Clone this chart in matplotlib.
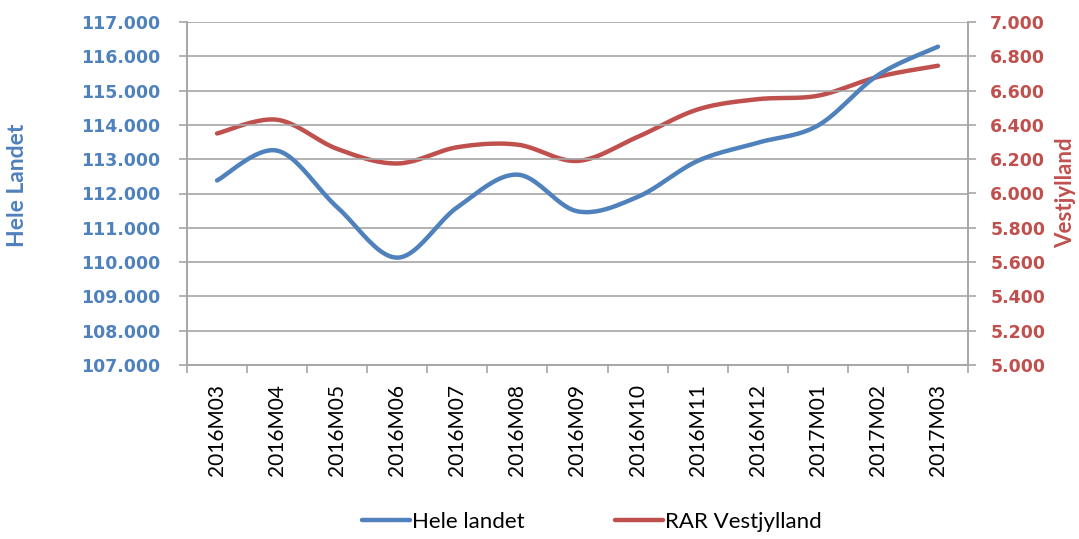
import numpy as np
import matplotlib.pyplot as plt
from matplotlib.ticker import FuncFormatter

# -------------------------
# Data
# -------------------------
months = ["2016M03", "2016M04", "2016M05", "2016M06", "2016M07", "2016M08",
          "2016M09", "2016M10", "2016M11", "2016M12", "2017M01", "2017M02",
          "2017M03"]
hele_landet = [112.38, 113.25, 111.60, 110.13, 111.60, 112.55,
               111.48, 111.90, 112.95, 113.48, 113.98, 115.45, 116.28]
rar_vestjylland = [6.35, 6.43, 6.26, 6.175, 6.27, 6.285,
                   6.19, 6.33, 6.49, 6.55, 6.57, 6.68, 6.745]

BLUE = "#4F81BD"
RED = "#C0504D"
GRID = "#A6A6A6"


def smooth(x, y, n=24):
    # Excel-style smoothed line: cubic Bezier through the points (Catmull-Rom)
    x = np.asarray(x, float)
    y = np.asarray(y, float)
    xs, ys = [], []
    t = np.linspace(0, 1, n)
    m = len(x)
    for i in range(m - 1):
        i0 = max(i - 1, 0)
        i3 = min(i + 2, m - 1)
        for arr, out in ((x, xs), (y, ys)):
            p0, p1, p2, p3 = arr[i0], arr[i], arr[i + 1], arr[i3]
            c1 = p1 + (p2 - p0) / 6
            c2 = p2 - (p3 - p1) / 6
            seg = ((1 - t) ** 3 * p1 + 3 * (1 - t) ** 2 * t * c1
                   + 3 * (1 - t) * t ** 2 * c2 + t ** 3 * p2)
            out.extend(seg if i == 0 else seg[1:])
    return np.array(xs), np.array(ys)


fig = plt.figure(figsize=(10.79, 5.39), dpi=100)
ax = fig.add_axes([187 / 1079, 1 - 365 / 539, (968 - 187) / 1079, (365 - 22) / 539])
ax2 = ax.twinx()

xpos = np.arange(len(months))
bx, by = smooth(xpos, hele_landet)
rx, ry = smooth(xpos, rar_vestjylland)
l1, = ax.plot(bx, by, color=BLUE, lw=3.2, solid_capstyle="round", label="Hele landet")
l2, = ax2.plot(rx, ry, color=RED, lw=3.2, solid_capstyle="round", label="RAR Vestjylland")
ax.set_zorder(ax2.get_zorder() + 1)
ax.patch.set_visible(False)

ax.set_xlim(-0.5, len(months) - 0.5)
ax.set_ylim(107, 117)
ax2.set_ylim(5, 7)
ax.set_yticks(np.arange(107, 117.5, 1))
ax2.set_yticks(np.arange(5, 7.05, 0.2))
ax.yaxis.set_major_formatter(FuncFormatter(lambda v, p: f"{v:.3f}"))
ax2.yaxis.set_major_formatter(FuncFormatter(lambda v, p: f"{v:.3f}"))

ax.grid(axis="y", color=GRID, lw=1.2)
ax.set_axisbelow(True)

# category ticks at boundaries, labels centered
ax.set_xticks(np.arange(-0.5, len(months), 1))
ax.set_xticklabels([])
ax.set_xticks(xpos, minor=True)
ax.set_xticklabels(months, minor=True, rotation=90, fontsize=15,
                   family="Lato", color="#000000")
ax.tick_params(axis="x", which="minor", length=0, pad=14)
ax.tick_params(axis="x", which="major", length=6, color=GRID, width=1.2)

ax.tick_params(axis="y", length=6, color=GRID, width=1.2, labelsize=12.5,
               labelcolor=BLUE, pad=13)
ax2.tick_params(axis="y", length=6, color=GRID, width=1.2, labelsize=12.5,
                labelcolor=RED, pad=10)
for lab in ax.get_yticklabels() + ax2.get_yticklabels():
    lab.set_fontweight("bold")

for a in (ax, ax2):
    for s in ("left", "right", "bottom"):
        a.spines[s].set_color(GRID)
        a.spines[s].set_linewidth(1.2)
    a.spines["top"].set_visible(False)

fig.text(18 / 1079, 1 - 185 / 539, "Hele Landet", rotation=90, color=BLUE,
         fontsize=16.5, fontweight="bold", family="Lato", ha="center", va="center")
fig.text(1066 / 1079, 1 - 193 / 539, "Vestjylland", rotation=90, color=RED,
         fontsize=16, fontweight="bold", family="Lato", ha="center", va="center")

fig.legend(handles=[l1, l2], loc="center", bbox_to_anchor=(592 / 1079, 17 / 539),
           ncol=2, frameon=False, prop={"family": "Lato", "size": 16},
           handlelength=2.15, handletextpad=0.1, columnspacing=4.1)

fig.savefig("out.png", dpi=100)
